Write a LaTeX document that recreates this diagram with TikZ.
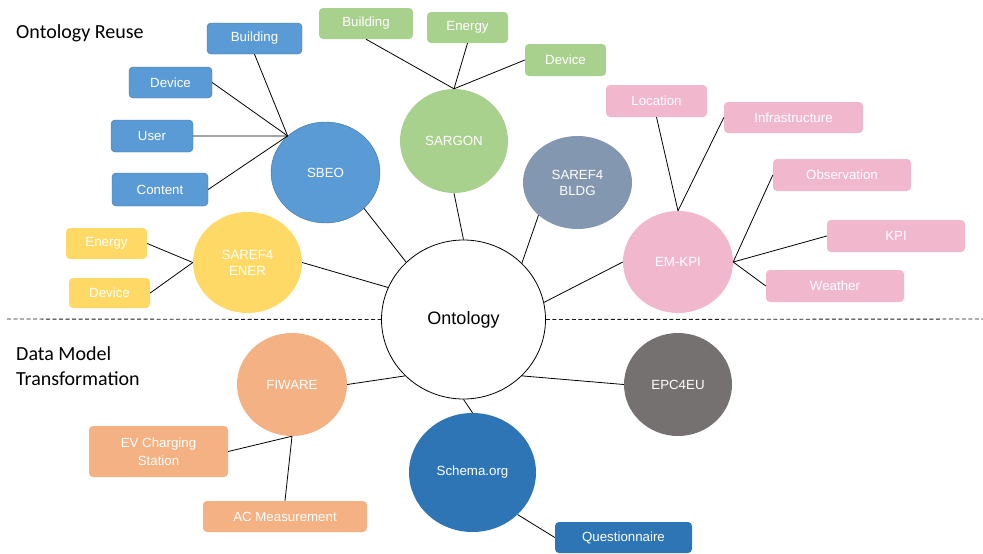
\documentclass[tikz,border=0pt]{standalone}
\usepackage{fontspec}
\usepackage{tikz}
\usetikzlibrary{shapes.geometric}
\newfontfamily\labelfont{Liberation Sans}
\newfontfamily\headfont{Carlito}
\definecolor{sbeoblue}{HTML}{5B9BD5}
\definecolor{sbeoline}{HTML}{41719C}
\definecolor{sargongreen}{HTML}{A9D18E}
\definecolor{bldgblue}{HTML}{8497B0}
\definecolor{kpipink}{HTML}{F1B8CD}
\definecolor{eneryellow}{HTML}{FFD966}
\definecolor{fiwareorange}{HTML}{F4B183}
\definecolor{schemablue}{HTML}{2E75B6}
\definecolor{epcgray}{HTML}{767171}
\tikzset{
    hub/.style={ellipse, inner sep=0pt, text=white, align=center,
        font=\labelfont\fontsize{13.3}{16}\selectfont},
    leaf/.style={rectangle, rounded corners=4pt, inner sep=0pt, text=white, align=center,
        minimum height=31pt, font=\labelfont\fontsize{13.3}{18}\selectfont},
    link/.style={draw=black, line width=0.8pt},
    divider/.style={draw=black!90, line width=0.9pt, dash pattern=on 4pt off 2.5pt},
    heading/.style={anchor=west, align=left, inner sep=0pt,
        font=\headfont\fontsize{20}{25}\selectfont}}

\begin{document}
\begin{tikzpicture}[x=1pt, y=-1pt]

            \useasboundingbox (0,0) rectangle (983,554);

            % headings and divider
            \node[heading] (reuse) at (16,33) {Ontology Reuse};
            \node[heading] (transform) at (16,366.5) {Data Model\\Transformation};

            % centre
            \node[ellipse, draw=black, fill=white, line width=0.8pt, minimum width=164pt, minimum height=159pt,
                font=\labelfont\fontsize{18}{20}\selectfont] (onto) at (463.5,319.5) {Ontology};
            \coordinate (dashL) at (7,319);
            \coordinate (dashR) at (983,319);
            \draw[divider] (dashL) -- (onto.west);
            \draw[divider] (onto.east) -- (dashR);

            % ontologies
            \node[hub, fill=sbeoblue, draw=sbeoline, minimum width=109pt, minimum height=101pt] (sbeo) at (325.5,172.5) {SBEO};
            \node[hub, fill=sargongreen, minimum width=108pt, minimum height=104pt] (sargon) at (454,141) {SARGON};
            \node[hub, fill=bldgblue, minimum width=109pt, minimum height=93pt] (bldg) at (577.5,182.5) {SAREF4\\BLDG};
            \node[hub, fill=kpipink, minimum width=110pt, minimum height=102pt] (emkpi) at (678,262) {EM-KPI};
            \node[hub, fill=eneryellow, minimum width=109pt, minimum height=101pt] (ener) at (247.5,262.5) {SAREF4\\ENER};
            \node[hub, fill=fiwareorange, minimum width=110pt, minimum height=103pt] (fiware) at (292,384.5) {FIWARE};
            \node[hub, fill=epcgray, minimum width=108pt, minimum height=103pt] (epc) at (678,384.5) {EPC4EU};
            \node[hub, fill=schemablue, minimum width=127pt, minimum height=119pt] (schema) at (472.5,472.5) {Schema.org};

            % modules
            \node[leaf, fill=sbeoblue, draw=sbeoline, minimum width=95pt] (sbBuilding) at (254.5,38.5) {Building};
            \node[leaf, fill=sbeoblue, draw=sbeoline, minimum width=83pt] (sbDevice) at (170.5,82.5) {Device};
            \node[leaf, fill=sbeoblue, draw=sbeoline, minimum width=82pt, minimum height=32pt] (sbUser) at (152,136) {User};
            \node[leaf, fill=sbeoblue, draw=sbeoline, minimum width=96pt, minimum height=33pt] (sbContent) at (160,189.5) {Content};
            \node[leaf, fill=sargongreen, minimum width=94pt] (sgBuilding) at (366,23.5) {Building};
            \node[leaf, fill=sargongreen, minimum width=81pt] (sgEnergy) at (467.5,27.5) {Energy};
            \node[leaf, fill=sargongreen, minimum width=81pt, minimum height=32pt] (sgDevice) at (565.5,60) {Device};
            \node[leaf, fill=kpipink, minimum width=101pt, minimum height=32pt] (kpLocation) at (656.5,101) {Location};
            \node[leaf, fill=kpipink, minimum width=139pt] (kpInfra) at (793.5,117.5) {Infrastructure};
            \node[leaf, fill=kpipink, minimum width=138pt, minimum height=32pt] (kpObs) at (842,175) {Observation};
            \node[leaf, fill=kpipink, minimum width=138pt, minimum height=32pt] (kpKPI) at (896,236) {KPI};
            \node[leaf, fill=kpipink, minimum width=138pt, minimum height=32pt] (kpWeather) at (835,286) {Weather};
            \node[leaf, fill=eneryellow, minimum width=81pt] (enEnergy) at (106.5,243.5) {Energy};
            \node[leaf, fill=eneryellow, minimum width=81pt, minimum height=30pt] (enDevice) at (109.5,293) {Device};
            \node[leaf, fill=fiwareorange, minimum width=139pt, minimum height=51pt] (fwEV) at (158.5,451.5) {EV Charging\\Station};
            \node[leaf, fill=fiwareorange, minimum width=164pt] (fwAC) at (285,516.5) {AC Measurement};
            \node[leaf, fill=schemablue, minimum width=137pt] (scQuest) at (623.5,537.5) {Questionnaire};

            % links to the centre
            \draw[link] (sbeo.-43.5) -- (onto.135.5);
            \draw[link] (sargon.south) -- (onto.north);
            \draw[link] (bldg.220) -- (onto.44.5);
            \draw[link] (emkpi.west) -- (onto.12);
            \draw[link] (ener.east) -- (onto.157.6);
            \draw[link] (fiware.east) -- (onto.224);
            \draw[link] (epc.west) -- (onto.316);
            \draw[link] (onto.south) -- (schema.north);

            % links to modules
            \draw[link] (sbeo.136.5) -- (sbBuilding.south);
            \draw[link] (sbeo.136.5) -- (sbDevice.east);
            \draw[link] (sbeo.136.5) -- (sbUser.east);
            \draw[link] (sbeo.136.5) -- (sbContent.east);
            \draw[link] (sargon.north) -- (sgBuilding.south);
            \draw[link] (sargon.north) -- (sgEnergy.south);
            \draw[link] (sargon.north) -- (sgDevice.west);
            \draw[link] (emkpi.north) -- (kpLocation.south);
            \draw[link] (emkpi.north) -- (kpInfra.west);
            \draw[link] (emkpi.east) -- (kpObs.west);
            \draw[link] (emkpi.east) -- (kpKPI.west);
            \draw[link] (emkpi.east) -- (kpWeather.west);
            \draw[link] (ener.west) -- (enEnergy.east);
            \draw[link] (ener.west) -- (enDevice.east);
            \draw[link] (fiware.south) -- (fwEV.east);
            \draw[link] (fiware.south) -- (fwAC.north);
            \draw[link] (schema.-43) -- (scQuest.west);

        \end{tikzpicture}
\end{document}
